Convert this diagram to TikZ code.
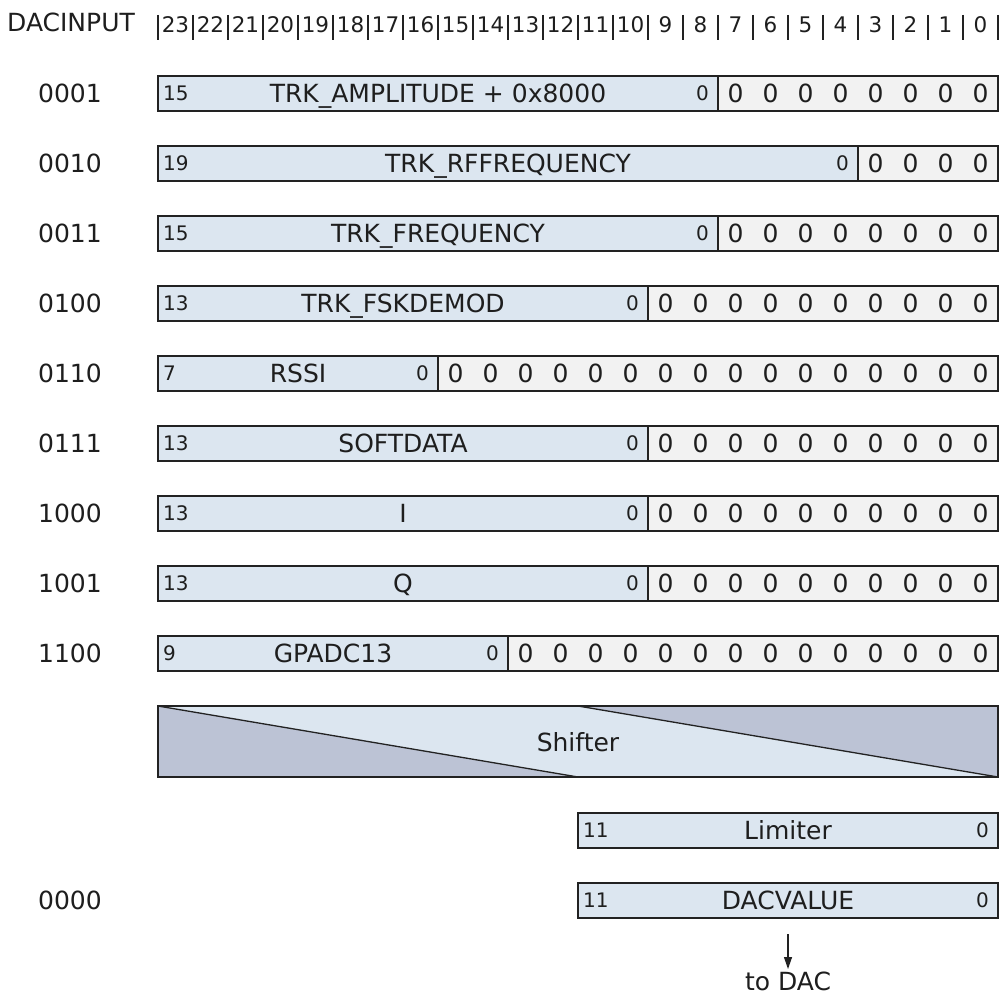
\documentclass[tikz,border=0pt]{standalone}
\usepackage{fontspec}
\setmainfont{DejaVu Sans}
\usetikzlibrary{arrows.meta}
\definecolor{fieldc}{HTML}{DCE6F0}
\definecolor{zeroc}{HTML}{F2F2F2}
\definecolor{darkc}{HTML}{BCC3D5}
\definecolor{linec}{HTML}{222222}
\definecolor{textc}{HTML}{1E1E1E}
\begin{document}
\begin{tikzpicture}[x=1pt,y=-1pt,
  box/.style={draw=linec, line width=1.3pt, minimum height=35pt, inner sep=0pt, outer sep=0pt, anchor=north west},
  fieldbox/.style={box, fill=fieldc},
  zerobox/.style={box, fill=zeroc},
  big/.style={font=\fontsize{25}{29}\selectfont, text=textc, inner sep=0pt, anchor=base},
  small/.style={font=\fontsize{20}{23}\selectfont, text=textc, inner sep=0pt},
  hdr/.style={font=\fontsize{21.5}{25}\selectfont, text=textc, inner sep=0pt, anchor=base},
  bar/.style={draw=linec, line width=1.3pt}]
\useasboundingbox (0,0) rectangle (1000,1000);
\fill[white] (0,0) rectangle (1000,1000);
% header
\node[big] (hdrlab) at (71,32) {DACINPUT};
\foreach \i in {0,...,24} \draw[bar] (158+35*\i,15) -- (158+35*\i,40);
\foreach \i in {0,...,23} {\pgfmathtruncatemacro\b{23-\i}
  \node[hdr] (h\b) at (175.5+35*\i,32.5) {\b};}
% rows
\foreach \lab/\hb/\nm [count=\k from 0] in {0001/15/{TRK\_AMPLITUDE + 0x8000},
   0010/19/{TRK\_RFFREQUENCY}, 0011/15/{TRK\_FREQUENCY}, 0100/13/{TRK\_FSKDEMOD},
   0110/7/{RSSI}, 0111/13/{SOFTDATA}, 1000/13/{I}, 1001/13/{Q}, 1100/9/{GPADC13}} {
  \pgfmathsetmacro\top{76+70*\k}
  \pgfmathsetmacro\w{35*(\hb+1)}
  \pgfmathsetmacro\zx{158+\w}
  \pgfmathsetmacro\zw{840-\w}
  \pgfmathsetmacro\bl{\top+17.5+9}
  \pgfmathsetmacro\sbl{\top+17.5+7.2}
  \pgfmathtruncatemacro\nz{23-\hb}
  \node[big] (l\k) at (70,\bl) {\lab};
  \node[fieldbox, minimum width=\w pt] (f\k) at (158,\top) {};
  \node[zerobox, minimum width=\zw pt] (z\k) at (\zx,\top) {};
  \pgfmathsetmacro\fc{158+\w/2}
  \node[big] (n\k) at (\fc,\bl) {\nm};
  \node[small, anchor=base west] (hi\k) at (163,\sbl) {\hb};
  \pgfmathsetmacro\lx{\zx-9}
  \node[small, anchor=base east] (lo\k) at (\lx,\sbl) {0};
  \foreach \j in {1,...,\nz} {
    \pgfmathsetmacro\dx{\zx+35*\j-17.5}
    \node[big] (d\k-\j) at (\dx,\bl) {0};}
}
% shifter
\fill[fieldc] (158,706) rectangle (998,777);
\fill[darkc] (158,706) -- (578,777) -- (158,777) -- cycle;
\fill[darkc] (578,706) -- (998,706) -- (998,777) -- cycle;
\draw[bar] (158,706) -- (578,777);
\draw[bar] (578,706) -- (998,777);
\node[box, minimum width=840pt, minimum height=71pt] (sh) at (158,706) {};
\node[big] (shlab) at (578,751) {Shifter};
% limiter
\node[fieldbox, minimum width=420pt] (lim) at (578,813) {};
\node[big] (limlab) at (788,839.5) {Limiter};
\node[small, anchor=base west] (limhi) at (583,837.7) {11};
\node[small, anchor=base east] (limlo) at (989,837.7) {0};
% dacvalue
\node[big] (lab0000) at (70,909.5) {0000};
\node[fieldbox, minimum width=420pt] (dac) at (578,883) {};
\node[big] (daclab) at (788,909.5) {DACVALUE};
\node[small, anchor=base west] (dachi) at (583,907.7) {11};
\node[small, anchor=base east] (daclo) at (989,907.7) {0};
% arrow
\coordinate (arrs) at (788,934);
\node[font=\fontsize{25}{29}\selectfont, text=textc, inner sep=0pt, anchor=north] (todac) at (788,972) {to DAC};
\draw[linec, line width=1.2pt, -{Triangle[length=12pt,width=8pt]}, shorten >=3pt] (arrs) -- (todac.north);
\end{tikzpicture}
\end{document}
